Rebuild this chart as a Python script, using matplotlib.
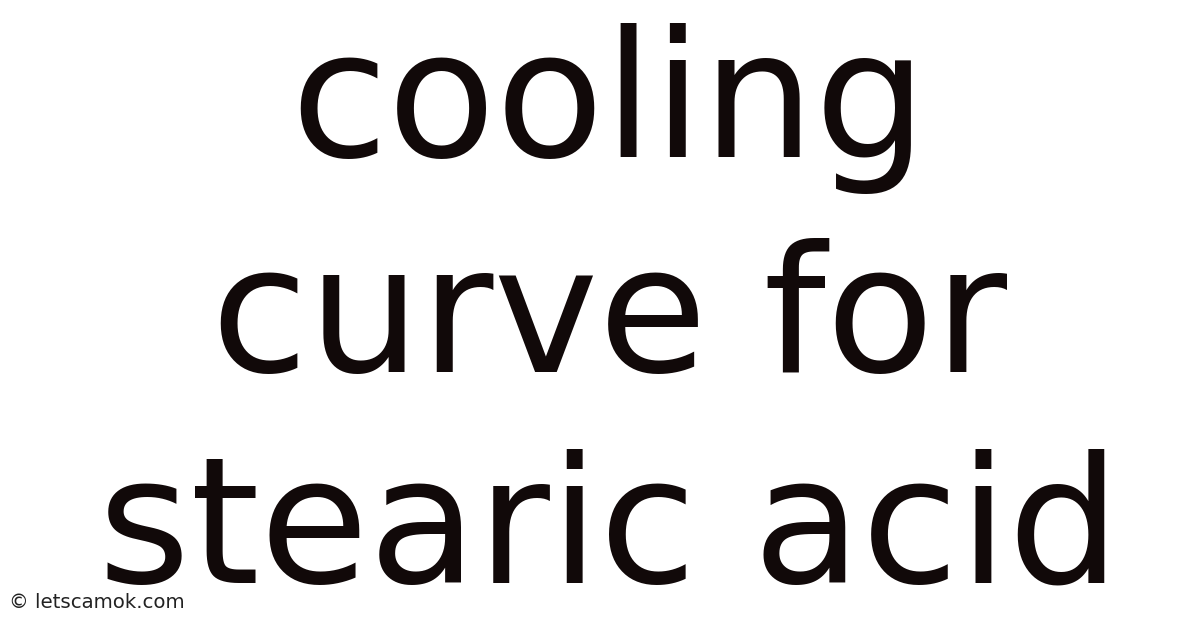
import matplotlib
matplotlib.use('Agg')
import matplotlib.pyplot as plt

# Title text, one entry per line, with baselines in pixels from the top
lines = ['cooling', 'curve for', 'stearic acid']
baselines_px = [157, 372, 583]
watermark = '\u00a9 letscamok.com'

W, H = 1200, 628
fig = plt.figure(figsize=(W / 100, H / 100), dpi=100)
fig.patch.set_facecolor('white')

for text, base in zip(lines, baselines_px):
    fig.text(609 / W, 1 - base / H, text, ha='center', va='baseline',
             fontsize=127.5, family='DejaVu Sans', color='#110909')

fig.text(9 / W, 1 - 602 / H, watermark, ha='left', va='center',
         fontsize=14.2, family='DejaVu Sans', color='#222222')

fig.savefig('out.png', dpi=100, facecolor='white')
